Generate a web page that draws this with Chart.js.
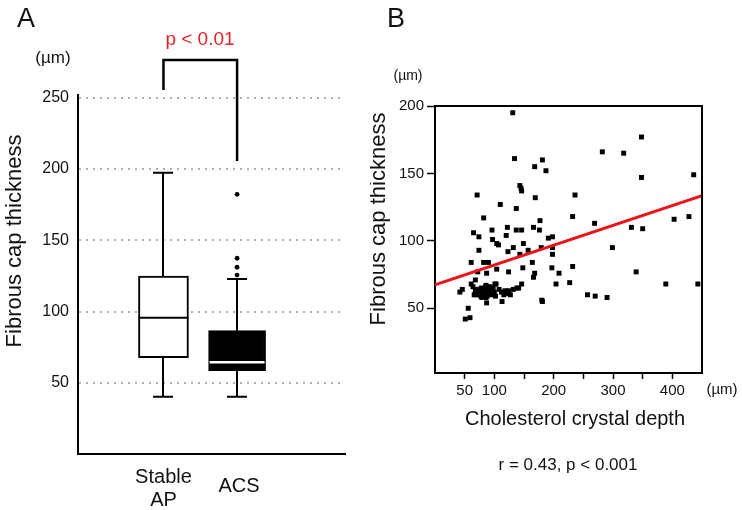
<!DOCTYPE html>
<html><head><meta charset="utf-8">
<script src="https://cdn.jsdelivr.net/npm/chart.js@4.4.1/dist/chart.umd.min.js"></script>
<style>
html,body{margin:0;padding:0;background:#fff;}
#wrapA{position:absolute;left:0;top:0;width:370px;height:510px;}
#wrapB{position:absolute;left:370px;top:0;width:372px;height:510px;}
</style></head><body>
<div id="wrapA"><canvas id="cA" width="370" height="510"></canvas></div>
<div id="wrapB"><canvas id="cB" width="372" height="510"></canvas></div>
<script>
// ---------- Panel A data (fibrous cap thickness, µm) ----------
const groupLabels = [['Stable', 'AP'], ['ACS']];
const groupPos = [1, 2];
const whiskerLow = [40.2, 40.2];
const q1 = [67.6, 58.5];
const median = [95.7, 64.4];
const q3 = [124.9, 86.6];
const whiskerHigh = [197.5, 122.8];
const acsOutliers = [182.3, 137.4, 131.1, 125.6];
const yTicksA = [50, 100, 150, 200, 250];
const pText = 'p < 0.01';

// ---------- Panel B data ----------
const crystalDepth = [131,348,282,318,134,181,168,187,436,348,
  143,145,146,71,236,169,110,137,232,428,
  403,82,177,269,166,122,331,350,96,137,
  146,176,65,120,74,97,104,107,191,198,
  149,132,123,143,157,179,198,198,299,74,
  61,82,90,164,72,87,104,124,148,168,
  197,232,209,339,166,61,68,86,103,146,
  141,204,227,389,443,42,46,56,51,59,
  87,113,181,180,257,270,290,132,124,127,
  121,138,68,70,72,75,77,78,80,82,
  84,85,87,88,90,92,94,96,98,100,
  102,79,86,93,112,116,118,108,101,64,66];
const capThickness = [195,177,166,165,161,160,155,152,149,147,
  141,139,137,134,134,132,127,124,118,118,
  116,117,115,113,110,110,110,109,108,108,
  108,108,106,104,103,101,98,97,102,103,
  98,95,92,90,93,95,95,90,95,93,
  84,84,84,84,77,76,79,77,80,76,
  80,81,76,77,73,68,71,67,68,68,
  65,68,69,68,68,62,64,50,42,43,
  54,55,55,56,60,59,58,64,63,60,
  61,65,63,60,64,62,59,65,61,63,
  60,66,62,59,64,61,63,60,65,62,
  59,58,58,66,62,60,63,64,68,66,60];
const fitIntercept = 67.3;
const fitSlope = 0.147;
const xTicksB = [50, 100, 150, 200, 250, 300, 350, 400];
const xLabelsB = [50, 100, 200, 300, 400];
const yTicksB = [50, 100, 150, 200];
const statText = 'r = 0.43, p < 0.001';

const FONT = '"Liberation Sans", Arial, sans-serif';
Chart.defaults.font.family = FONT;
Chart.defaults.color = '#111';

function txt(ctx, s, x, y, size, opts = {}) {
  ctx.save();
  ctx.font = size + 'px ' + FONT;
  ctx.fillStyle = opts.color || '#111';
  ctx.textAlign = opts.align || 'center';
  ctx.textBaseline = opts.baseline || 'alphabetic';
  ctx.translate(x, y);
  if (opts.rotate) ctx.rotate(opts.rotate);
  ctx.fillText(s, 0, 0);
  ctx.restore();
}

// ---------- Panel A ----------
const boxPlugin = {
  id: 'boxWhiskers',
  beforeDatasetsDraw(chart) {
    const { ctx, scales: { x, y } } = chart;
    ctx.save();
    ctx.strokeStyle = '#000';
    ctx.lineWidth = 2;
    groupPos.forEach((p, i) => {
      const px = Math.round(x.getPixelForValue(p));
      const cap = 10;
      const yHi = y.getPixelForValue(whiskerHigh[i]);
      const yLo = y.getPixelForValue(whiskerLow[i]);
      ctx.beginPath();
      ctx.moveTo(px, y.getPixelForValue(q3[i])); ctx.lineTo(px, yHi);
      ctx.moveTo(px, y.getPixelForValue(q1[i])); ctx.lineTo(px, yLo);
      ctx.moveTo(px - cap, yHi); ctx.lineTo(px + cap, yHi);
      ctx.moveTo(px - cap, yLo); ctx.lineTo(px + cap, yLo);
      ctx.stroke();
    });
    ctx.restore();
  },
  afterDatasetsDraw(chart) {
    const { ctx, scales: { y } } = chart;
    ctx.save();
    groupPos.forEach((p, i) => {
      const el = chart.getDatasetMeta(i).data[0];
      const half = el.width / 2;
      const my = y.getPixelForValue(median[i]);
      ctx.beginPath();
      if (i === 0) { ctx.strokeStyle = '#000'; ctx.lineWidth = 2; ctx.moveTo(el.x - half, my); ctx.lineTo(el.x + half, my); }
      else { ctx.strokeStyle = '#fff'; ctx.lineWidth = 2.5; ctx.moveTo(el.x - half + 1, my); ctx.lineTo(el.x + half - 1, my); }
      ctx.stroke();
    });
    ctx.restore();
  }
};

const annotA = {
  id: 'annotA',
  afterDraw(chart) {
    const { ctx, scales: { x, y } } = chart;
    txt(ctx, 'A', 26, 27, 27);
    txt(ctx, '(\u00b5m)', 53, 58, 17, { baseline: 'middle' });
    txt(ctx, pText, 200, 45, 19, { color: '#e8202a' });
    // significance bracket
    const lx = x.getPixelForValue(groupPos[0]);
    const rx = x.getPixelForValue(groupPos[1]);
    ctx.save();
    ctx.strokeStyle = '#000'; ctx.lineWidth = 2.5;
    ctx.beginPath();
    ctx.moveTo(lx, y.getPixelForValue(255.5));
    ctx.lineTo(lx, y.getPixelForValue(276.6));
    ctx.lineTo(rx, y.getPixelForValue(276.6));
    ctx.lineTo(rx, y.getPixelForValue(205.7));
    ctx.stroke();
    ctx.restore();
    // axis title
    txt(ctx, 'Fibrous cap thickness', 15, 241, 22, { baseline: 'middle', rotate: -Math.PI / 2 });
    // category labels
    groupLabels.forEach((lines, i) => {
      const px = x.getPixelForValue(groupPos[i]);
      if (lines.length === 2) {
        txt(ctx, lines[0], px, 483, 20);
        txt(ctx, lines[1], px, 506, 20);
      } else {
        txt(ctx, lines[0], px + 2, 492, 20);
      }
    });
  }
};

new Chart(document.getElementById('cA'), {
  type: 'bar',
  data: {
    datasets: [
      { label: groupLabels[0].join(' '), data: [{ x: groupPos[0], y: [q1[0], q3[0]] }],
        backgroundColor: '#fff', borderColor: '#000', borderWidth: 2, borderSkipped: false,
        barThickness: 50, grouped: false, order: 2 },
      { label: groupLabels[1].join(' '), data: [{ x: groupPos[1], y: [q1[1], q3[1]] }],
        backgroundColor: '#000', borderColor: '#000', borderWidth: 2, borderSkipped: false,
        barThickness: 57, grouped: false, order: 2 },
      { type: 'scatter', label: 'ACS outliers', data: acsOutliers.map(v => ({ x: groupPos[1], y: v })),
        pointRadius: 2.4, backgroundColor: '#000', borderWidth: 0, order: 1 }
    ]
  },
  options: {
    responsive: false, animation: false,
    layout: { padding: { left: 0, top: 95, right: 25, bottom: 0 } },
    plugins: { legend: { display: false }, tooltip: { enabled: false } },
    scales: {
      x: { type: 'linear', min: -0.161, max: 3.466, offset: false,
        grid: { display: false }, ticks: { display: false },
        border: { display: true, color: '#000', width: 2 },
        afterFit: s => { s.height = 56; } },
      y: { min: 0, max: 252,
        afterBuildTicks: s => { s.ticks = yTicksA.map(v => ({ value: v })); },
        grid: { color: '#b0b0b0', lineWidth: 2, drawTicks: false },
        border: { display: true, color: '#000', width: 2, dash: [2, 5] },
        ticks: { padding: 9, color: '#111', font: { size: 16 } },
        afterFit: s => { s.width = 78; } }
    }
  },
  plugins: [boxPlugin, annotA]
});

// ---------- Panel B ----------
const annotB = {
  id: 'annotB',
  afterDraw(chart) {
    const { ctx, chartArea: a } = chart;
    ctx.save();
    ctx.strokeStyle = '#000'; ctx.lineWidth = 2;
    ctx.beginPath();
    ctx.moveTo(a.left - 1, a.top); ctx.lineTo(a.right, a.top); ctx.lineTo(a.right, a.bottom + 1);
    ctx.stroke();
    ctx.restore();
    txt(ctx, 'B', 26, 27, 27);
    txt(ctx, '(\u00b5m)', 38, 76, 14, { baseline: 'middle' });
    txt(ctx, 'Fibrous cap thickness', 9, 219, 22, { baseline: 'middle', rotate: -Math.PI / 2 });
    txt(ctx, 'Cholesterol crystal depth', 205, 425, 20);
    txt(ctx, '(\u00b5m)', 352, 390, 15, { baseline: 'middle' });
    txt(ctx, statText, 198, 470, 17);
  }
};

new Chart(document.getElementById('cB'), {
  type: 'scatter',
  data: {
    datasets: [
      { label: 'regression', showLine: true,
        data: [{ x: 0, y: fitIntercept }, { x: 450, y: fitIntercept + fitSlope * 450 }],
        borderColor: '#e8141c', borderWidth: 3, pointRadius: 0, order: 0 },
      { label: 'plaques', data: crystalDepth.map((d, i) => ({ x: d, y: capThickness[i] })),
        pointStyle: 'rect', pointRadius: 3.5, backgroundColor: '#000', borderWidth: 0, order: 1 }
    ]
  },
  options: {
    responsive: false, animation: false,
    layout: { padding: { left: 0, top: 106, right: 40, bottom: 107 } },
    plugins: { legend: { display: false }, tooltip: { enabled: false } },
    scales: {
      x: { type: 'linear', min: 0, max: 450,
        afterBuildTicks: s => { s.ticks = xTicksB.map(v => ({ value: v })); },
        grid: { drawOnChartArea: false, drawTicks: true, tickLength: 6, tickColor: '#000', tickWidth: 1.5 },
        border: { display: true, color: '#000', width: 2 },
        ticks: { padding: 3, maxRotation: 0, autoSkip: false, color: '#111', font: { size: 15 },
          callback: v => (xLabelsB.includes(v) ? String(v) : '') },
        afterFit: s => { s.height = 30; } },
      y: { min: 2, max: 200,
        afterBuildTicks: s => { s.ticks = yTicksB.map(v => ({ value: v })); },
        grid: { drawOnChartArea: false, drawTicks: true, tickLength: 8, tickColor: '#000', tickWidth: 1.5 },
        border: { display: true, color: '#000', width: 2 },
        ticks: { padding: 3, color: '#111', font: { size: 15 } },
        afterFit: s => { s.width = 65; } }
    }
  },
  plugins: [annotB]
});
</script>
</body></html>
